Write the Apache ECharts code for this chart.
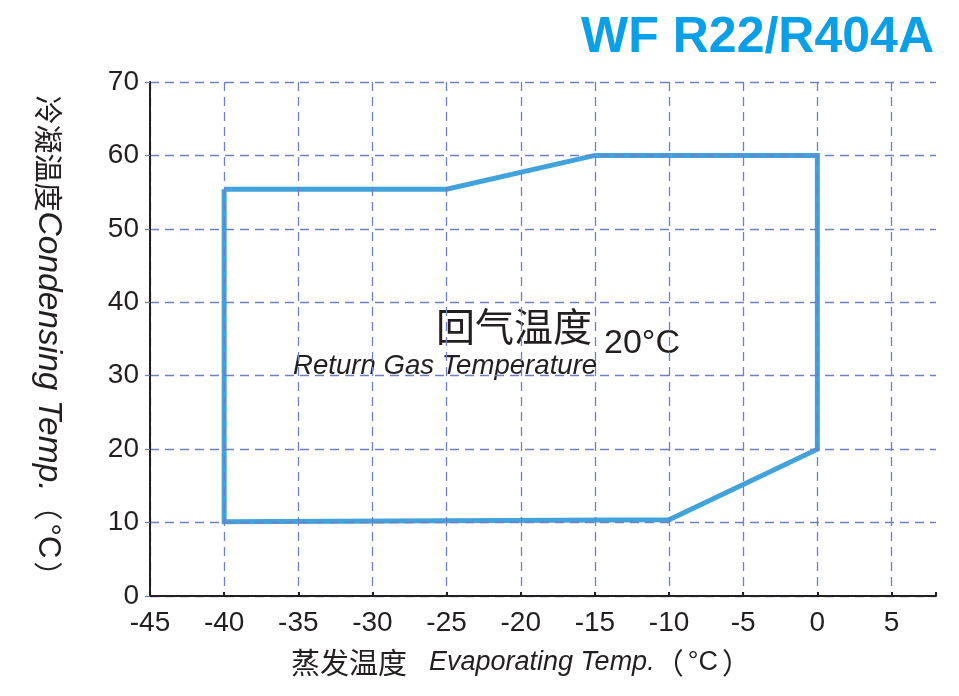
<!DOCTYPE html>
<html>
<head>
<meta charset="utf-8">
<script src="https://cdn.jsdelivr.net/npm/echarts@6/dist/echarts.min.js"></script>
<style>html,body{margin:0;padding:0;background:#fff}#c{width:959px;height:696px}</style>
</head>
<body>
<div id="c"></div>
<script>
// Operating envelope (evaporating temp, condensing temp)
const evapTemps = [-40, -25, -15, 0, 0, -10, -40, -40];
const condTemps = [55.4, 55.4, 60, 60, 20, 10.4, 10.1, 55.4];
const xTicks = [-45, -40, -35, -30, -25, -20, -15, -10, -5, 0, 5];
const yTicks = [0, 10, 20, 30, 40, 50, 60, 70];
const titleText = 'WF R22/R404A';

const FONT = 'Liberation Sans, Arial, sans-serif';
const CJK = 'Noto Sans CJK SC';
const gridColor = '#6f7fc0';
const axisColor = '#231f20';

const chart = echarts.init(document.getElementById('c'));
const data = evapTemps.map((x, i) => [x, condTemps[i]]);

// split line colours: hide the line at the extra max tick (8)
const splitColors = xTicks.map(() => gridColor).concat(['rgba(0,0,0,0)']);

chart.setOption({
  animation: false,
  backgroundColor: '#fff',
  title: {
    text: titleText,
    right: 20, top: 8,
    textStyle: {color: '#0a9fe6', fontSize: 50, fontWeight: 'bold', fontFamily: FONT}
  },
  grid: {left: 150, right: 23, top: 82, bottom: 100},
  xAxis: {
    type: 'value', min: -45, max: 8, interval: 5,
    z: 3,
    axisLine: {onZero: false, lineStyle: {color: axisColor, width: 2}},
    axisTick: {inside: true, length: 4, lineStyle: {color: axisColor, width: 2}},
    axisLabel: {
      color: axisColor, fontSize: 28, fontFamily: FONT, margin: 13,
      formatter: v => (xTicks.indexOf(v) >= 0 ? String(v) : '')
    },
    splitLine: {show: true, lineStyle: {color: splitColors, type: [9, 6], width: 1.3}}
  },
  yAxis: {
    type: 'value', min: 0, max: 70, interval: 10,
    z: 3,
    axisLine: {show: true, onZero: false, lineStyle: {color: axisColor, width: 2}},
    axisTick: {show: true, length: 5, lineStyle: {color: gridColor, width: 1.3}},
    axisLabel: {
      color: axisColor, fontSize: 28, fontFamily: FONT, margin: 11,
      formatter: v => (yTicks.indexOf(v) >= 0 ? String(v) : '')
    },
    splitLine: {show: true, lineStyle: {color: gridColor, type: [9, 6], width: 1.3}}
  },
  series: [{
    type: 'line',
    data: data,
    z: 2,
    symbol: 'none',
    lineStyle: {color: '#42a2dc', width: 5, join: 'miter'},
    silent: true
  }],
  graphic: [
    {type: 'text', left: 436, top: 307, style: {text: '回气温度', fontFamily: CJK, fontSize: 39, fill: axisColor}},
    {type: 'text', left: 604, top: 327, style: {text: '20°C', fontFamily: FONT, fontSize: 34, fill: axisColor}},
    {type: 'text', left: 293, top: 352, style: {text: 'Return Gas Temperature', fontFamily: FONT, fontSize: 27.6, fontStyle: 'italic', fill: axisColor}},
    {
      type: 'text', left: 291, top: 648,
      style: {
        text: '{c|蒸发温度}{e|Evaporating Temp.}{c|（}{d|°C}{c|）}',
        rich: {
          c: {fontFamily: CJK, fontSize: 29, fill: axisColor},
          e: {fontFamily: FONT, fontSize: 27, fontStyle: 'italic', fill: axisColor, padding: [0, 0, 0, 22]},
          d: {fontFamily: FONT, fontSize: 27, fill: axisColor, padding: [0, 4, 0, 4]}
        }
      }
    },
    {
      type: 'text', x: 48, y: 343, rotation: -Math.PI / 2,
      style: {
        text: '{c|冷凝温度}{e|Condensing Temp.}{c|（}{d|°C}{c|）}',
        textAlign: 'center', textVerticalAlign: 'middle',
        rich: {
          c: {fontFamily: CJK, fontSize: 29, fill: axisColor},
          e: {fontFamily: FONT, fontSize: 33.5, fontStyle: 'italic', fill: axisColor},
          d: {fontFamily: FONT, fontSize: 31, fill: axisColor, padding: [0, 3, 0, 3]}
        }
      }
    }
  ]
});
</script>
</body>
</html>
